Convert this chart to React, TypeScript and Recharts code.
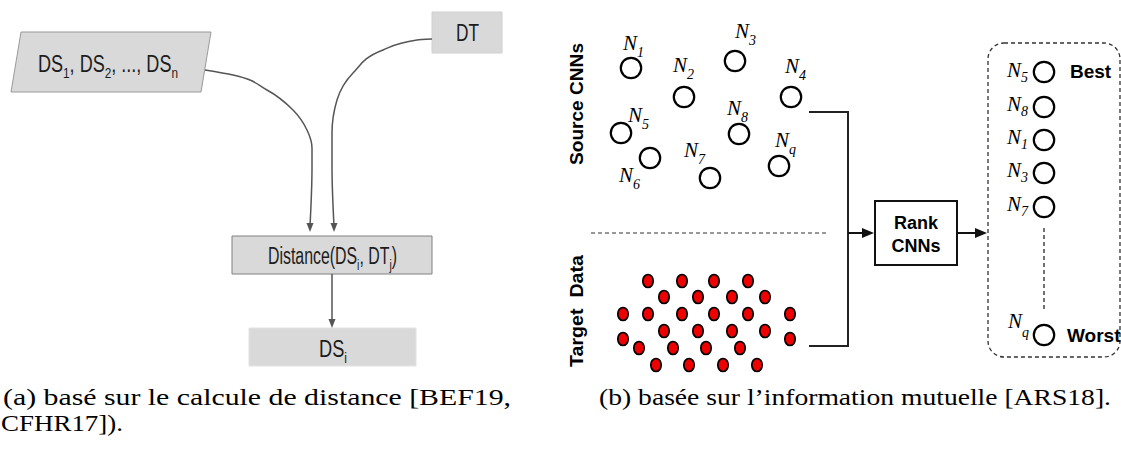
import React from 'react';
import { ComposedChart, XAxis, YAxis, Scatter, Line, ReferenceArea } from 'recharts';

const W = 1121;
const H = 452;

// ---------- panel (a) ----------
const dsCurve = [
  { x: 205, y: 70 }, { x: 233, y: 75 }, { x: 267, y: 90 }, { x: 293, y: 110 },
  { x: 307, y: 130 }, { x: 312, y: 148 }, { x: 312, y: 168 }, { x: 310, y: 226 },
];
const dtCurve = [
  { x: 432, y: 39 }, { x: 417, y: 40 }, { x: 383, y: 50 }, { x: 353, y: 73 },
  { x: 337, y: 100 }, { x: 332, y: 133 }, { x: 332, y: 168 }, { x: 334, y: 226 },
];
const distArrow = [{ x: 332, y: 274 }, { x: 332, y: 322 }];
const grayHeads = [{ x: 310, y: 232 }, { x: 334, y: 232 }, { x: 332, y: 328 }];

const grayBoxes = [
  { id: 'DT', x1: 432, x2: 502, y1: 12, y2: 53, edge: '#d0d0d0' },
  { id: 'Distance', x1: 232, x2: 432, y1: 236, y2: 274, edge: '#808080' },
  { id: 'DSi', x1: 249, x2: 416, y1: 328, y2: 366, edge: '#e2e2e2' },
];
const slantBox = { x1: 11, x2: 211, y1: 32, y2: 92 };

type Part = [string, number];
const boxTexts: { x: number; y: number; parts: Part[]; len: number }[] = [
  { x: 38, y: 72, parts: [['DS', 0], ['1', 1], [', DS', 0], ['2', 1], [', ..., DS', 0], ['n', 1]], len: 140 },
  { x: 456, y: 41, parts: [['DT', 0]], len: 23 },
  { x: 268, y: 264, parts: [['Distance(DS', 0], ['i', 1], [', DT', 0], ['j', 1], [')', 0]], len: 129 },
  { x: 319, y: 357, parts: [['DS', 0], ['i', 1]], len: 28 },
];

// ---------- panel (b) ----------
const sourceNodes = [
  { x: 631, y: 68 }, { x: 684, y: 97 }, { x: 735, y: 61 }, { x: 791, y: 97 },
  { x: 621, y: 133 }, { x: 650, y: 158 }, { x: 710, y: 178 }, { x: 739, y: 134 },
  { x: 779, y: 166 },
];
const sourceLabels = [
  { x: 623, y: 50, sub: '1' }, { x: 673, y: 72, sub: '2' }, { x: 735, y: 38, sub: '3' },
  { x: 785, y: 73, sub: '4' }, { x: 628, y: 122, sub: '5' }, { x: 619, y: 182, sub: '6' },
  { x: 684, y: 157, sub: '7' }, { x: 727, y: 115, sub: '8' }, { x: 775, y: 147, sub: 'q' },
];
const rankedNodes = [
  { x: 1044, y: 72 }, { x: 1044, y: 107 }, { x: 1044, y: 140 }, { x: 1044, y: 173 },
  { x: 1044, y: 207 }, { x: 1044, y: 335 },
];
const rankedLabels = [
  { x: 1007, y: 77, sub: '5', dy: 5 }, { x: 1007, y: 111, sub: '8', dy: 5 },
  { x: 1007, y: 144, sub: '1', dy: 5 }, { x: 1007, y: 177, sub: '3', dy: 5 },
  { x: 1007, y: 211, sub: '7', dy: 5 }, { x: 1008, y: 328, sub: 'q', dy: 9 },
];
const targetPoints = [
  { x: 648, y: 281 }, { x: 682, y: 281 }, { x: 714, y: 281 }, { x: 748, y: 281 },
  { x: 664, y: 297 }, { x: 698, y: 297 }, { x: 732, y: 297 }, { x: 765, y: 297 },
  { x: 623, y: 314 }, { x: 648, y: 314 }, { x: 682, y: 314 }, { x: 714, y: 314 }, { x: 748, y: 314 }, { x: 790, y: 314 },
  { x: 664, y: 331 }, { x: 698, y: 331 }, { x: 732, y: 331 }, { x: 765, y: 331 },
  { x: 623, y: 339 }, { x: 790, y: 339 },
  { x: 639, y: 348 }, { x: 673, y: 348 }, { x: 706, y: 348 }, { x: 740, y: 348 },
  { x: 656, y: 365 }, { x: 689, y: 365 }, { x: 723, y: 365 }, { x: 757, y: 365 },
];
const collector = [{ x: 809, y: 112 }, { x: 848, y: 112 }, { x: 848, y: 346 }, { x: 809, y: 346 }];
const toRank = [{ x: 848, y: 233 }, { x: 864, y: 233 }];
const fromRank = [{ x: 957, y: 233 }, { x: 977, y: 233 }];
const blackHeads = [{ x: 874, y: 233 }, { x: 987, y: 233 }];
const separator = [{ x: 591, y: 233 }, { x: 829, y: 233 }];
const rankDots = [{ x: 1044, y: 228 }, { x: 1044, y: 312 }];
const rankBox = { x1: 875, x2: 957, y1: 201, y2: 265 };
const listBox = { x1: 988, x2: 1120, y1: 43, y2: 357 };

const boldTexts = [
  { x: 916, y: 229, text: 'Rank', size: 18, anchor: 'middle' },
  { x: 916, y: 252, text: 'CNNs', size: 18, anchor: 'middle' },
  { x: 1070, y: 78, text: 'Best', size: 19, anchor: 'start' },
  { x: 1067, y: 342, text: 'Worst', size: 19, anchor: 'start' },
];
const sideTexts = [
  { x: 583, y: 104, text: 'Source CNNs', len: 122 },
  { x: 583, y: 311, text: 'Target  Data', len: 112 },
];
const captions = [
  { x: 3, y: 405, text: '(a) basé sur le calcule de distance [BEF19,', len: 508 },
  { x: 1, y: 431, text: 'CFHR17]).', len: 122 },
  { x: 599, y: 405, text: '(b) basée sur l’information mutuelle [ARS18].', len: 512 },
];

// ---------- shapes ----------
const SANS = "'Liberation Sans', Arimo, Arial, sans-serif";
const SERIF = "'Times New Roman', 'Liberation Serif', Tinos, Times, serif";

function rich(parts: Part[], size: number, subSize: number, subDy: number) {
  let inSub = false;
  return parts.map(([t, s], i) => {
    let dy = 0;
    if (s && !inSub) dy = subDy;
    else if (!s && inSub) dy = -subDy;
    inSub = !!s;
    return (
      <tspan key={i} dy={dy} fontSize={s ? subSize : size}>
        {t}
      </tspan>
    );
  });
}

const BoxTextShape = (p: any) => (
  <text
    x={p.cx}
    y={p.cy}
    style={{ fontFamily: SANS, whiteSpace: 'pre' }}
    fontSize={23}
    fill="#1c1c1c"
    textLength={p.payload.len}
    lengthAdjust="spacingAndGlyphs"
  >
    {rich(p.payload.parts, 23, 15, 6)}
  </text>
);

const OpenCircle = (p: any) => <circle cx={p.cx} cy={p.cy} r={10.2} fill="#fff" stroke="#000" strokeWidth={2.2} />;

const RedDot = (p: any) => <ellipse cx={p.cx} cy={p.cy} rx={5.2} ry={6.5} fill="#ee0000" stroke="#000" strokeWidth={1.7} />;

const MathLabel = (p: any) => (
  <text x={p.cx} y={p.cy} style={{ fontFamily: SERIF, fontStyle: 'italic' }} fill="#000" fontSize={21}>
    <tspan>N</tspan>
    <tspan fontSize={14} dy={p.payload.dy ?? 7}>{p.payload.sub}</tspan>
  </text>
);

const BoldText = (p: any) => (
  <text x={p.cx} y={p.cy} style={{ fontFamily: SANS, fontWeight: 'bold' }} fontSize={p.payload.size} textAnchor={p.payload.anchor} fill="#000">
    {p.payload.text}
  </text>
);

const SideText = (p: any) => (
  <text
    x={p.cx}
    y={p.cy}
    transform={`rotate(-90, ${p.cx}, ${p.cy})`}
    style={{ fontFamily: SANS, fontWeight: 'bold', whiteSpace: 'pre' }}
    fontSize={19}
    textAnchor="middle"
    fill="#000"
    textLength={p.payload.len}
    lengthAdjust="spacingAndGlyphs"
  >
    {p.payload.text}
  </text>
);

const CaptionText = (p: any) => (
  <text
    x={p.cx}
    y={p.cy}
    style={{ fontFamily: SERIF }}
    fontSize={23}
    fill="#000"
    textLength={p.payload.len}
    lengthAdjust="spacingAndGlyphs"
  >
    {p.payload.text}
  </text>
);

const GrayHead = (p: any) => (
  <polygon points={`${p.cx},${p.cy} ${p.cx - 3.5},${p.cy - 9} ${p.cx + 3.5},${p.cy - 9}`} fill="#555" />
);
const BlackHead = (p: any) => (
  <polygon points={`${p.cx},${p.cy} ${p.cx - 12},${p.cy - 5} ${p.cx - 12},${p.cy + 5}`} fill="#111" />
);

const SlantShape = (p: any) => {
  const { x, y, width, height } = p;
  const k = 10;
  return (
    <polygon
      points={`${x + k},${y} ${x + width},${y} ${x + width - k},${y + height} ${x},${y + height}`}
      fill="#d9d9d9"
      stroke="#9a9a9a"
      strokeWidth={1}
    />
  );
};
const RoundDashed = (p: any) => (
  <rect x={p.x} y={p.y} width={p.width} height={p.height} rx={16} ry={16} fill="none" stroke="#333" strokeWidth={1.3} strokeDasharray="4 3" />
);

export default function App() {
  return (
    <div style={{ position: 'absolute', left: 0, top: 0, width: W, height: H, background: '#fff' }}>
      <ComposedChart width={W} height={H} margin={{ top: 0, right: 0, bottom: 0, left: 0 }}>
        <XAxis type="number" dataKey="x" domain={[0, W]} allowDataOverflow hide />
        <YAxis type="number" dataKey="y" domain={[0, H]} reversed allowDataOverflow hide />

        {/* panel (a) boxes */}
        <ReferenceArea x1={slantBox.x1} x2={slantBox.x2} y1={slantBox.y1} y2={slantBox.y2} ifOverflow="visible" shape={SlantShape} />
        {grayBoxes.map((b) => (
          <ReferenceArea
            key={b.id}
            x1={b.x1}
            x2={b.x2}
            y1={b.y1}
            y2={b.y2}
            ifOverflow="visible"
            fill="#d9d9d9"
            fillOpacity={1}
            stroke={b.edge}
            strokeWidth={1}
          />
        ))}

        {/* panel (b) boxes */}
        <ReferenceArea x1={rankBox.x1} x2={rankBox.x2} y1={rankBox.y1} y2={rankBox.y2} ifOverflow="visible" fill="#fff" fillOpacity={1} stroke="#111" strokeWidth={2} />
        <ReferenceArea x1={listBox.x1} x2={listBox.x2} y1={listBox.y1} y2={listBox.y2} ifOverflow="visible" shape={RoundDashed} />

        {/* connectors */}
        <Line data={dsCurve} dataKey="y" type="monotoneY" stroke="#555" strokeWidth={1.5} dot={false} activeDot={false} isAnimationActive={false} />
        <Line data={dtCurve} dataKey="y" type="monotoneY" stroke="#555" strokeWidth={1.5} dot={false} activeDot={false} isAnimationActive={false} />
        <Line data={distArrow} dataKey="y" type="linear" stroke="#555" strokeWidth={1.5} dot={false} activeDot={false} isAnimationActive={false} />
        <Line data={collector} dataKey="y" type="linear" stroke="#222" strokeWidth={2} dot={false} activeDot={false} isAnimationActive={false} />
        <Line data={toRank} dataKey="y" type="linear" stroke="#111" strokeWidth={2} dot={false} activeDot={false} isAnimationActive={false} />
        <Line data={fromRank} dataKey="y" type="linear" stroke="#111" strokeWidth={2} dot={false} activeDot={false} isAnimationActive={false} />
        <Line data={separator} dataKey="y" type="linear" stroke="#777" strokeWidth={1.5} strokeDasharray="4 3" dot={false} activeDot={false} isAnimationActive={false} />
        <Line data={rankDots} dataKey="y" type="linear" stroke="#444" strokeWidth={1.5} strokeDasharray="4 3" dot={false} activeDot={false} isAnimationActive={false} />

        <Scatter data={grayHeads} shape={GrayHead} isAnimationActive={false} />
        <Scatter data={blackHeads} shape={BlackHead} isAnimationActive={false} />

        {/* nodes */}
        <Scatter data={sourceNodes} shape={OpenCircle} isAnimationActive={false} />
        <Scatter data={rankedNodes} shape={OpenCircle} isAnimationActive={false} />
        <Scatter data={targetPoints} shape={RedDot} isAnimationActive={false} />

        {/* texts */}
        <Scatter data={boxTexts} shape={BoxTextShape} isAnimationActive={false} />
        <Scatter data={sourceLabels} shape={MathLabel} isAnimationActive={false} />
        <Scatter data={rankedLabels} shape={MathLabel} isAnimationActive={false} />
        <Scatter data={boldTexts} shape={BoldText} isAnimationActive={false} />
        <Scatter data={sideTexts} shape={SideText} isAnimationActive={false} />
        <Scatter data={captions} shape={CaptionText} isAnimationActive={false} />
      </ComposedChart>
    </div>
  );
}
